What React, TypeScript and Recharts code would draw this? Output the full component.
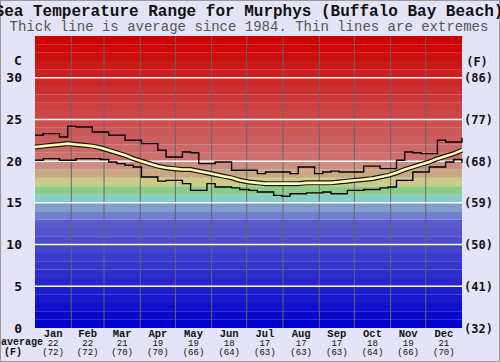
import {
  ComposedChart,
  Line,
  ReferenceArea,
  ReferenceLine,
  XAxis,
  YAxis,
} from "recharts";

// weekly samples through the year (°C)
const maxTemp = [
  23.1, 23.3, 23.3, 22.9, 24.2, 24.1, 24.1, 23.5, 23.5, 23.1, 23.1, 22.5, 22.5,
  22.1, 22.1, 21.3, 20.5, 20.5, 21.1, 21.0, 19.7, 19.7, 19.9, 19.9, 18.9, 18.9,
  18.9, 18.5, 18.7, 18.7, 18.7, 18.5, 19.3, 19.3, 18.5, 18.7, 18.8, 18.7, 18.7,
  18.7, 19.4, 19.4, 19.1, 19.1, 20.1, 21.1, 21.0, 20.9, 20.9, 22.5, 22.3, 22.3,
  22.8,
];
const avgTemp = [
  21.7, 21.8, 21.9, 22.0, 22.1, 22.0, 21.9, 21.8, 21.6, 21.3, 21.0, 20.7, 20.3,
  20.0, 19.7, 19.4, 19.2, 19.1, 19.0, 19.0, 18.8, 18.6, 18.4, 18.2, 18.0, 17.7,
  17.5, 17.4, 17.3, 17.3, 17.3, 17.3, 17.3, 17.4, 17.4, 17.4, 17.4, 17.5, 17.6,
  17.7, 17.8, 17.9, 18.1, 18.3, 18.6, 19.0, 19.3, 19.6, 19.9, 20.3, 20.6, 20.9,
  21.3,
];
const minTemp = [
  20.1, 20.3, 20.3, 20.1, 20.1, 20.3, 20.3, 20.3, 20.2, 19.9, 19.7, 19.5, 19.3,
  18.1, 18.1, 17.6, 17.7, 17.7, 17.3, 16.5, 16.5, 17.3, 16.9, 16.9, 16.8, 16.6,
  16.5, 16.3, 16.3, 15.9, 15.8, 16.1, 16.1, 16.2, 16.2, 16.3, 16.1, 16.1, 16.5,
  16.5, 16.6, 16.6, 16.8, 16.9, 17.7, 17.7, 18.7, 18.7, 19.3, 19.3, 19.9, 20.2,
  19.8,
];

const months = ["Jan", "Feb", "Mar", "Apr", "May", "Jun", "Jul", "Aug", "Sep", "Oct", "Nov", "Dec"];
const monthStart = [0, 31, 59, 90, 120, 151, 181, 212, 243, 273, 304, 334, 365];
const monthAvgC = [22, 22, 21, 19, 19, 18, 17, 17, 17, 18, 19, 21];
const monthAvgF = [72, 72, 70, 70, 66, 64, 63, 63, 63, 64, 66, 70];
const yTicks = [0, 5, 10, 15, 20, 25, 30];

const weekDay = avgTemp.map((_, i) => Math.round((i * 365) / 52));
const rows = weekDay.map((day, i) => ({
  day,
  max: maxTemp[i],
  avg: avgTemp[i],
  min: minTemp[i],
}));
const monthMid = months.map((_, i) => (monthStart[i] + monthStart[i + 1]) / 2);

// colour of each 1°C background band
const bandColor = (d: number) => {
  if (d >= 20) {
    const g = 8 * (34 - d);
    return `rgb(204,${g},${g})`;
  }
  const mid: Record<number, string> = {
    19: "#c99080",
    18: "#c9a882",
    17: "#cccc88",
    16: "#88cc88",
    15: "#88cccc",
    14: "#80a0cc",
    13: "#7080cc",
  };
  if (mid[d]) return mid[d];
  const v = Math.round(7.5 * d);
  return `rgb(${v},${v},204)`;
};
const bands = Array.from({ length: 35 }, (_, d) => d);

const mono = "'Liberation Mono', 'DejaVu Sans Mono', monospace";
const sansMono = "'DejaVu Sans Mono', monospace";

const TempTick = (props: any) => {
  const { y, payload } = props;
  const c = payload.value;
  return (
    <g>
      <text x={22} y={y} dy={4.5} textAnchor="end" fontFamily={sansMono} fontWeight="bold" fontSize={13} fill="#111">
        {c}
      </text>
      <text x={464} y={y} dy={4.5} textAnchor="start" fontFamily={sansMono} fontWeight="bold" fontSize={12} fill="#111">
        ({Math.round((c * 9) / 5 + 32)})
      </text>
    </g>
  );
};

const MonthTick = (props: any) => {
  const { x, y, index } = props;
  return (
    <g fontFamily={mono} textAnchor="middle" fill="#111">
      <text x={x} y={y + 9} fontSize={10.5} fontWeight="bold">
        {months[index]}
      </text>
      <text x={x} y={y + 17.5} fontSize={9}>
        {monthAvgC[index]}
      </text>
      <text x={x} y={y + 27} fontSize={9}>
        ({monthAvgF[index]})
      </text>
    </g>
  );
};

export default function App() {
  return (
    <div
      style={{
        position: "absolute",
        left: 0,
        top: 0,
        width: 500,
        height: 362,
        background: "#e4e4f8",
        outline: "1px solid #999",
        outlineOffset: -1,
      }}
    >
      <ComposedChart
        width={500}
        height={362}
        data={rows}
        margin={{ top: 36, right: 38, bottom: 0, left: 0 }}
      >
        {bands.map((d) => (
          <ReferenceArea
            key={d}
            y1={d}
            y2={d + 1}
            fill={bandColor(d)}
            fillOpacity={1}
            stroke="none"
          />
        ))}
        {monthStart.slice(1, 12).map((m) => (
          <ReferenceLine key={"m" + m} x={m} stroke="#666" strokeWidth={1} />
        ))}
        {yTicks.slice(1).map((t) => (
          <ReferenceLine key={"t" + t} y={t} stroke="#fff" strokeWidth={1.5} />
        ))}
        <XAxis
          type="number"
          dataKey="day"
          domain={[0, 365]}
          ticks={monthMid}
          interval={0}
          tick={<MonthTick />}
          tickLine={false}
          axisLine={false}
          tickSize={0}
          tickMargin={0}
          height={34}
        />
        <YAxis
          domain={[0, 35]}
          ticks={yTicks}
          interval={0}
          tick={<TempTick />}
          tickLine={false}
          axisLine={false}
          width={35}
        />
        <Line dataKey="max" type="stepAfter" stroke="#000" strokeWidth={1.4} dot={false} isAnimationActive={false} />
        <Line dataKey="min" type="stepAfter" stroke="#000" strokeWidth={1.4} dot={false} isAnimationActive={false} />
        <Line dataKey="avg" type="linear" stroke="#151515" strokeWidth={5} dot={false} isAnimationActive={false} />
        <Line dataKey="avg" type="linear" stroke="#ffffb8" strokeWidth={2.6} dot={false} isAnimationActive={false} />
      </ComposedChart>
      <svg
        width={500}
        height={362}
        style={{ position: "absolute", left: 0, top: 0, pointerEvents: "none" }}
      >
        <text x={249} y={16} textAnchor="middle" fontFamily={mono} fontWeight="bold" fontSize={16} fill="#111">
          Sea Temperature Range for Murphys (Buffalo Bay Beach)
        </text>
        <text x={249} y={31} textAnchor="middle" fontFamily={mono} fontSize={14} fill="#555">
          Thick line is average since 1984. Thin lines are extremes
        </text>
        <text x={18} y={65} textAnchor="middle" fontFamily={sansMono} fontWeight="bold" fontSize={13} fill="#111">
          C
        </text>
        <text x={477} y={66} textAnchor="middle" fontFamily={sansMono} fontWeight="bold" fontSize={12} fill="#111">
          (F)
        </text>
        <text x={22} y={345} textAnchor="middle" fontFamily={mono} fontWeight="bold" fontSize={10} fill="#111">
          average
        </text>
        <text x={13} y={355} textAnchor="middle" fontFamily={mono} fontWeight="bold" fontSize={10} fill="#111">
          (F)
        </text>
      </svg>
    </div>
  );
}
